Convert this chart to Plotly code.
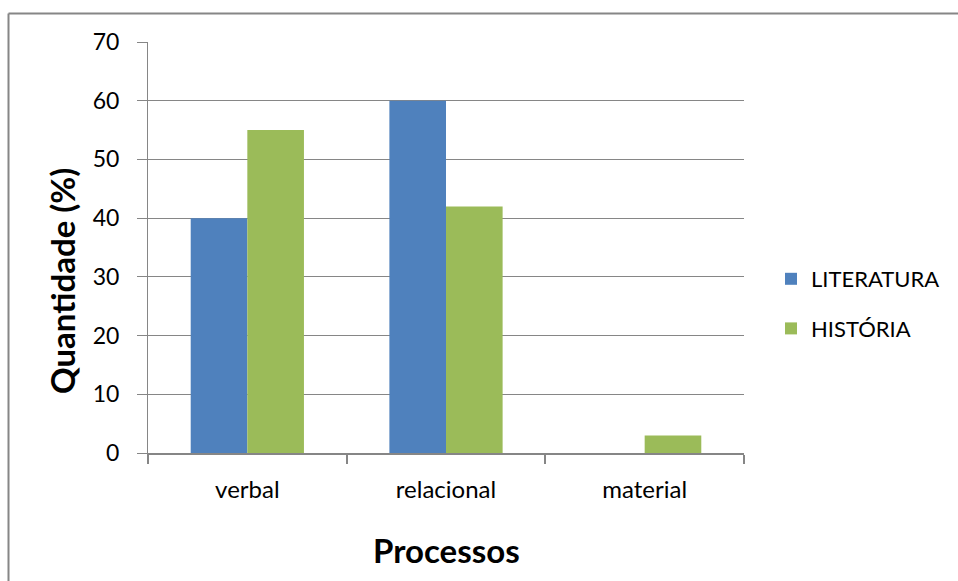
import plotly.graph_objects as go

categories = ["verbal", "relacional", "material"]
literatura = [40, 60, 0]
historia = [55, 42, 3]
y_ticks = [0, 10, 20, 30, 40, 50, 60, 70]

BLUE = "#4f81bd"
GREEN = "#9bbb59"
GRAY = "#868686"
FONT = "Lato, 'Open Sans', sans-serif"

# plot area in pixels
L, R, T, B = 148, 744, 42, 453
W, H = 958, 581
pw, ph = R - L, B - T


def px_x(x):
    return (x - L) / pw


def px_y(y):
    return (B - y) / ph


fig = go.Figure()
fig.add_trace(go.Bar(x=categories, y=literatura, name="LITERATURA",
                     marker=dict(color=BLUE, line=dict(width=0)),
                     legendgroup="a"))
fig.add_trace(go.Bar(x=categories, y=historia, name="HISTÓRIA",
                     marker=dict(color=GREEN, line=dict(width=0)),
                     legendgroup="b"))

fig.update_layout(
    width=W, height=H,
    margin=dict(l=L, r=W - R, t=T, b=H - B, pad=0),
    paper_bgcolor="white", plot_bgcolor="white",
    barmode="group", bargap=0.43, bargroupgap=0,
    font=dict(family=FONT, color="#000000", size=22),
    showlegend=True,
    legend=dict(x=px_x(771), y=px_y(258), xanchor="left", yanchor="top",
                font=dict(size=22, color="#000000"),
                tracegroupgap=18, itemwidth=30,
                bgcolor="rgba(0,0,0,0)"),
    xaxis=dict(
        type="category", tickson="boundaries", ticks="outside", ticklen=9,
        tickcolor=GRAY, tickwidth=2, showline=True, linecolor=GRAY, linewidth=2,
        showgrid=False, tickfont=dict(size=24, color="#000000"),
        ticklabelstandoff=14,
    ),
    yaxis=dict(
        range=[0, 70], tickvals=y_ticks, ticks="outside", ticklen=10,
        tickcolor=GRAY, tickwidth=1, showline=True, linecolor=GRAY, linewidth=1,
        showgrid=True, gridcolor=GRAY, gridwidth=1, zeroline=False,
        tickfont=dict(size=23, color="#000000"), ticklabelstandoff=13,
    ),
    annotations=[
        dict(text="<b>Quantidade (%)</b>", xref="paper", yref="paper",
             x=px_x(62), y=px_y(281), textangle=-90, showarrow=False,
             font=dict(size=33, color="#000000", family=FONT),
             xanchor="center", yanchor="middle"),
        dict(text="<b>Processos</b>", xref="paper", yref="paper",
             x=px_x(446), y=px_y(550), showarrow=False,
             font=dict(size=33, color="#000000", family=FONT),
             xanchor="center", yanchor="middle"),
    ],
    shapes=[
        # outer chart frame: top and left edges
        dict(type="line", xref="paper", yref="paper",
             x0=px_x(8.5), x1=px_x(960), y0=px_y(13.5), y1=px_y(13.5),
             line=dict(color=GRAY, width=2)),
        dict(type="line", xref="paper", yref="paper",
             x0=px_x(8.5), x1=px_x(8.5), y0=px_y(13.5), y1=px_y(590),
             line=dict(color=GRAY, width=2)),
    ],
)

fig.write_html("out.html")
